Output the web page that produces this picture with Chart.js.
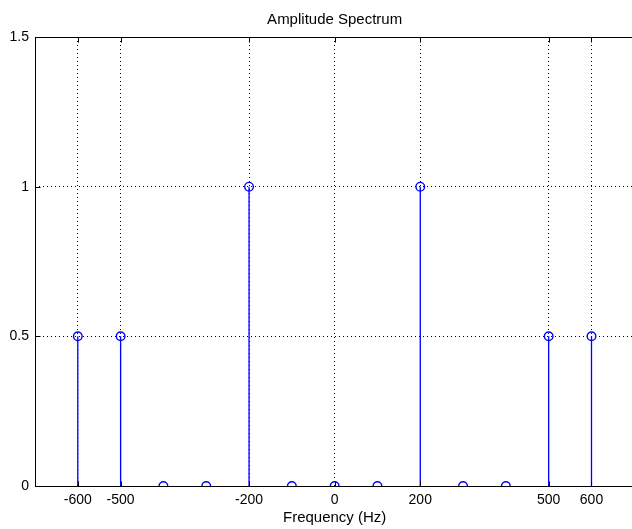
<!DOCTYPE html>
<html>
<head>
<meta charset="utf-8">
<script src="https://cdn.jsdelivr.net/npm/chart.js@4/dist/chart.umd.min.js"></script>
<style>
  html, body { margin: 0; padding: 0; background: #fff; width: 632px; height: 529px; overflow: hidden; }
  #c { position: absolute; left: 0; top: 0; }
</style>
</head>
<body>
<canvas id="c" width="640" height="529"></canvas>
<script>
// Spectre d'amplitude — diagramme en tiges façon MATLAB
const FREQUENCES = [-600, -500, -400, -300, -200, -100, 0, 100, 200, 300, 400, 500, 600]
const AMPLITUDES = [0.5, 0.5, 0, 0, 1, 0, 0, 0, 1, 0, 0, 0.5, 0.5]
const TICKS_X = [-600, -500, -200, 0, 200, 500, 600]
const TICKS_Y = [0, 0.5, 1, 1.5]

const BLEU = '#0000FF'
const NOIR = '#000000'
const FONTE = "'Liberation Sans', Arial, sans-serif"

// Cadre plein (gauche, haut, bas ; le bord droit sort de l'image)
// + petites graduations vers l'intérieur
const cadre = {
  id: 'cadre',
  afterDatasetsDraw(chart) {
    const { ctx, chartArea: a, scales: { x, y } } = chart
    const g = Math.round(a.left) + 0.5
    const h = Math.round(a.top) + 0.5
    const b = Math.round(a.bottom) + 0.5
    ctx.save()
    ctx.strokeStyle = NOIR
    ctx.lineWidth = 1
    ctx.beginPath()
    ctx.moveTo(a.right, h); ctx.lineTo(g, h)
    ctx.moveTo(g, h); ctx.lineTo(g, b)
    ctx.moveTo(g, b); ctx.lineTo(a.right, b)
    for (const v of TICKS_X) {
      const px = Math.round(x.getPixelForValue(v)) + 0.5
      ctx.moveTo(px, h); ctx.lineTo(px, h + 5)
      ctx.moveTo(px, b); ctx.lineTo(px, b - 5)
    }
    for (const v of TICKS_Y) {
      const py = Math.round(y.getPixelForValue(v)) + 0.5
      ctx.moveTo(g, py); ctx.lineTo(g + 5, py)
    }
    ctx.stroke()
    ctx.restore()
  },
}

const tiges = FREQUENCES.map((f, i) => ({
  type: 'line',
  data: [{ x: f, y: 0 }, { x: f, y: AMPLITUDES[i] }],
  borderColor: BLEU, borderWidth: 1.3, pointRadius: 0, fill: false,
}))

new Chart(document.getElementById('c'), {
  type: 'scatter',
  data: {
    datasets: [
      ...tiges,
      {
        type: 'scatter',
        data: FREQUENCES.map((f, i) => ({ x: f, y: AMPLITUDES[i] })),
        pointStyle: 'circle', pointRadius: 4.3, borderWidth: 1.4,
        borderColor: BLEU, backgroundColor: 'rgba(0,0,0,0)',
      },
    ],
  },
  options: {
    responsive: false, animation: false, devicePixelRatio: 1,
    layout: { padding: { left: 0, right: 4, top: 0, bottom: 0 } },
    plugins: {
      legend: { display: false },
      tooltip: { enabled: false },
      title: {
        display: true, text: 'Amplitude Spectrum', fullSize: false,
        color: NOIR, font: { family: FONTE, size: 15, weight: 'normal' },
        padding: { top: 11, bottom: 8 },
      },
    },
    scales: {
      x: {
        type: 'linear', min: -700, max: 700,
        afterBuildTicks: s => { s.ticks = TICKS_X.map(v => ({ value: v })) },
        afterFit: s => { s.height = 43 },
        ticks: { color: NOIR, font: { family: FONTE, size: 14 }, padding: 6, maxRotation: 0, autoSkip: false },
        grid: { color: NOIR, drawTicks: false },
        border: { display: false, dash: [1, 3] },
        title: { display: true, text: 'Frequency (Hz)', color: NOIR, font: { family: FONTE, size: 15 }, padding: { top: 0, bottom: 2 } },
      },
      y: {
        min: 0, max: 1.5,
        afterBuildTicks: s => { s.ticks = TICKS_Y.map(v => ({ value: v })) },
        afterFit: s => { s.width = 35 },
        ticks: { color: NOIR, font: { family: FONTE, size: 14 }, padding: 6, callback: v => String(v) },
        grid: { color: NOIR, drawTicks: false },
        border: { display: false, dash: [1, 3] },
      },
    },
  },
  plugins: [cadre],
})
</script>
</body>
</html>
